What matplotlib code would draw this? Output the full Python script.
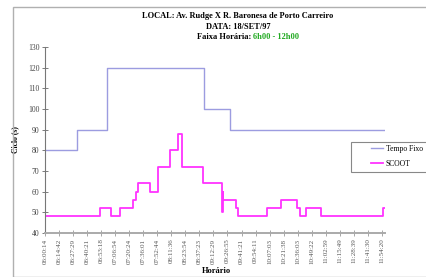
import matplotlib
matplotlib.use("Agg")
import matplotlib.pyplot as plt
from matplotlib.patches import Rectangle

plt.rcParams['font.family'] = ['Liberation Serif', 'DejaVu Serif']

tick_labels = ["06:00:14", "06:14:42", "06:27:29", "06:40:21", "06:53:18",
               "07:06:54", "07:20:24", "07:36:01", "07:52:44", "08:11:36",
               "08:23:54", "08:37:23", "09:12:29", "09:26:55", "09:41:21",
               "09:54:11", "10:07:03", "10:21:38", "10:36:03", "10:49:22",
               "11:02:59", "11:15:49", "11:28:39", "11:41:30", "11:54:20"]

# step series: x in tick-index units, value holds until next x
fixo_x = [0, 2.26, 4.44, 11.32, 13.18, 24.2]
fixo_y = [80, 90, 120, 100, 90, 90]

scoot_x = [0, 3.92, 4.70, 5.34, 6.29, 6.45, 6.62, 7.48, 8.05, 8.90, 9.44, 9.76,
           11.27, 12.64, 12.66, 12.70, 13.60, 13.75, 15.79, 16.81, 17.93, 18.16,
           18.59, 19.64, 24.05, 24.22]
scoot_y = [48, 52, 48, 52, 56, 60, 64, 60, 72, 80, 88, 72,
           64, 50, 60, 56, 52, 48, 52, 56, 52, 48,
           52, 48, 52, 52]

W, H = 426, 277
fig = plt.figure(figsize=(W / 100, H / 100), dpi=100)

# outer chart-area frame
fig.patches.append(Rectangle((13 / W, 0), 1.2, 1 - 7 / H, transform=fig.transFigure,
                             fill=False, edgecolor='#b0b0b0', linewidth=1.0))

ax = fig.add_axes([45 / W, 1 - 233 / H, 340 / W, 186 / H])
ax.plot(fixo_x, fixo_y, drawstyle='steps-post', color='#9c9ce0', linewidth=1.0,
        label='Tempo Fixo')
ax.plot(scoot_x, scoot_y, drawstyle='steps-post', color='#ff33ff', linewidth=1.3,
        label='SCOOT')

ax.set_xlim(0, 24.22)
ax.set_ylim(40, 130)
ax.set_yticks(range(40, 131, 10))
ax.set_xticks(range(len(tick_labels)))
ax.set_xticklabels(tick_labels, rotation=90, fontsize=5, color='#555555')
ax.tick_params(axis='y', labelsize=5.5, labelcolor='#444444', direction='inout',
               length=4, width=0.6, color='#666666', pad=2)
ax.tick_params(axis='x', direction='inout', length=4, width=0.6, color='#999999', pad=2)
for s in ['top', 'right']:
    ax.spines[s].set_visible(False)
ax.spines['left'].set_color('#777777')
ax.spines['left'].set_linewidth(0.8)
ax.spines['bottom'].set_color('#aaaaaa')
ax.spines['bottom'].set_linewidth(1.4)

ax.set_ylabel('Ciclo (s)', fontsize=5.5, fontweight='bold', labelpad=6)
fig.text(216 / W, 1 - 271 / H, 'Horário', fontsize=6, fontweight='bold',
         ha='center', va='center')

# titles
fig.text(238 / W, 1 - 16 / H, 'LOCAL: Av. Rudge X R. Baronesa de Porto Carreiro',
         fontsize=6, fontweight='bold', ha='center', va='center')
fig.text(238 / W, 1 - 27 / H, 'DATA: 18/SET/97', fontsize=6, fontweight='bold',
         ha='center', va='center')
fig.text(253 / W, 1 - 37 / H, 'Faixa Horária: ', fontsize=6, fontweight='bold',
         ha='right', va='center')
fig.text(253 / W, 1 - 37 / H, '6h00 - 12h00', fontsize=6, fontweight='bold',
         ha='left', va='center', color='#22aa22')

# legend box (frame drawn separately so it can extend to the right edge)
box = Rectangle((351 / W, 1 - 172 / H), 80 / W, 30 / H,
                transform=fig.transFigure, facecolor='white',
                edgecolor='#888888', linewidth=0.8, zorder=5, clip_on=False)
ax.add_patch(box)
leg = ax.legend(loc='upper left', bbox_to_anchor=(369 / W, 1 - 143 / H),
                bbox_transform=fig.transFigure, fontsize=5.5, frameon=False,
                handlelength=1.6, borderpad=0.2, labelspacing=1.0,
                borderaxespad=0, handletextpad=0.4)
leg.set_zorder(6)

fig.savefig('out.png', dpi=100)
